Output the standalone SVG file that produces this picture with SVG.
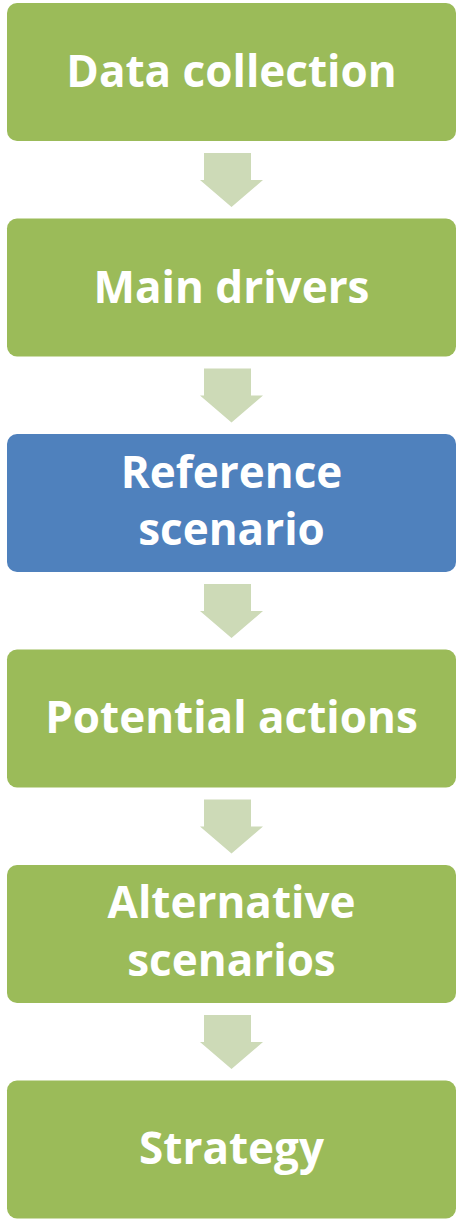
<svg xmlns="http://www.w3.org/2000/svg" width="457" height="1219" viewBox="0 0 457 1219">
<style>
.g{fill:#9BBB59}
.b{fill:#4F81BD}
.a{fill:#CDDAB7}
text{font-family:"Open Sans","Liberation Sans",sans-serif;font-weight:bold;font-size:44px;fill:#FFFFFF;text-anchor:middle;font-variant-ligatures:none}
</style>
<rect width="457" height="1219" fill="#FFFFFF"/>
<g id="connectors">
<path class="a" d="M204,153H251V180H263L231.5,207L200,180H204Z"/>
<path class="a" d="M204,368.5H251V395.5H263L231.5,422.5L200,395.5H204Z"/>
<path class="a" d="M204,584H251V611H263L231.5,638L200,611H204Z"/>
<path class="a" d="M204,799.5H251V826.5H263L231.5,853.5L200,826.5H204Z"/>
<path class="a" d="M204,1015H251V1042H263L231.5,1069L200,1042H204Z"/>
</g>
<g id="n1"><rect class="g" x="7" y="3" width="449" height="138" rx="10"/><text x="231.5" y="87">Data collection</text></g>
<g id="n2"><rect class="g" x="7" y="218.5" width="449" height="138" rx="10"/><text x="231.5" y="302.5">Main drivers</text></g>
<g id="n3"><rect class="b" x="7" y="434" width="449" height="138" rx="10"/><text x="231.5" y="488">Reference</text><text x="231.5" y="545">scenario</text></g>
<g id="n4"><rect class="g" x="7" y="649.5" width="449" height="138" rx="10"/><text x="231.5" y="733">Potential actions</text></g>
<g id="n5"><rect class="g" x="7" y="865" width="449" height="138" rx="10"/><text x="231.5" y="918">Alternative</text><text x="231.5" y="976">scenarios</text></g>
<g id="n6"><rect class="g" x="7" y="1080.5" width="449" height="138" rx="10"/><text x="231.5" y="1164">Strategy</text></g>
</svg>
